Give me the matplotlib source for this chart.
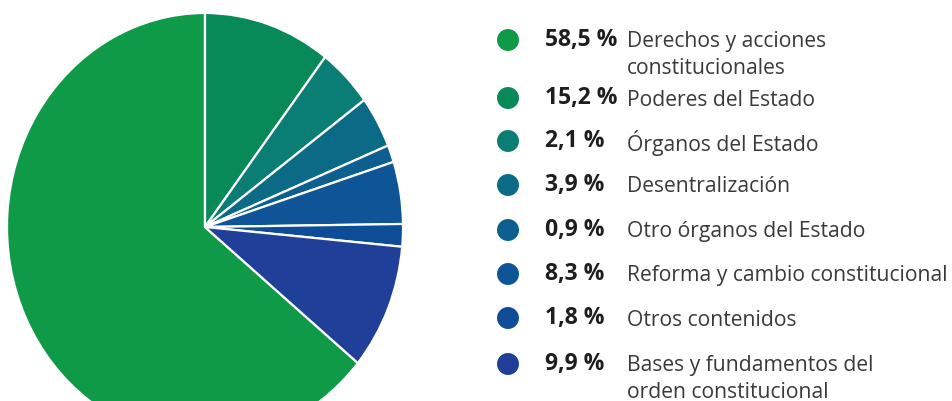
import matplotlib.pyplot as plt
import numpy as np

plt.rcParams['font.family'] = ['Open Sans', 'DejaVu Sans']

# legend, in the order shown
pct_labels = ["58,5 %", "15,2 %", "2,1 %", "3,9 %", "0,9 %", "8,3 %", "1,8 %", "9,9 %"]
names = ["Derechos y acciones\nconstitucionales", "Poderes del Estado", "Órganos del Estado",
         "Desentralización", "Otro órganos del Estado", "Reforma y cambio constitucional",
         "Otros contenidos", "Bases y fundamentos del\norden constitucional"]
# slice sizes as drawn in the pie (they do not follow the printed percentages)
drawn = np.array([64.1, 10.4, 4.5, 3.9, 1.3, 4.7, 1.7, 9.5])
colors = ["#0f9a48", "#078a57", "#0a7d74", "#0b6b86", "#0c5f8f", "#0d5596", "#0e4c97", "#1f3f98"]

fig = plt.figure(figsize=(9.52, 4.01), dpi=100)

# pie: slightly taller than wide, cut at the bottom
W, H = 952, 401
cx, cy, rx, ry = 205, 227, 198, 214
ax = fig.add_axes([(cx - rx) / W, (H - cy - ry) / H, 2 * rx / W, 2 * ry / H])
start = 90 + drawn[0] / drawn.sum() * 360
ax.pie(drawn, colors=colors, startangle=start, counterclock=False,
       wedgeprops=dict(edgecolor="white", linewidth=1.6))
ax.set_aspect('auto')
ax.set_xlim(-1, 1)
ax.set_ylim(-1, 1)
ax.axis('off')

# legend drawn in pixel coordinates
lg = fig.add_axes([0, 0, 1, 1])
lg.set_xlim(0, W)
lg.set_ylim(H, 0)
lg.axis('off')

row_y = [40, 98, 141, 185, 230, 274, 318, 364]
for y, p, n, c in zip(row_y, pct_labels, names, colors):
    lg.scatter([508], [y], s=250, color=c, edgecolors='none')
    lg.text(545, y, p, fontsize=16.5, fontweight='bold', color="#1e1e1e", va='center', ha='left')
    lines = n.split("\n")
    for i, line in enumerate(lines):
        lg.text(627, y + 2 + i * 26, line, fontsize=15.2, color="#3a3a3a", va='center', ha='left')

fig.savefig("out.png", dpi=100)
